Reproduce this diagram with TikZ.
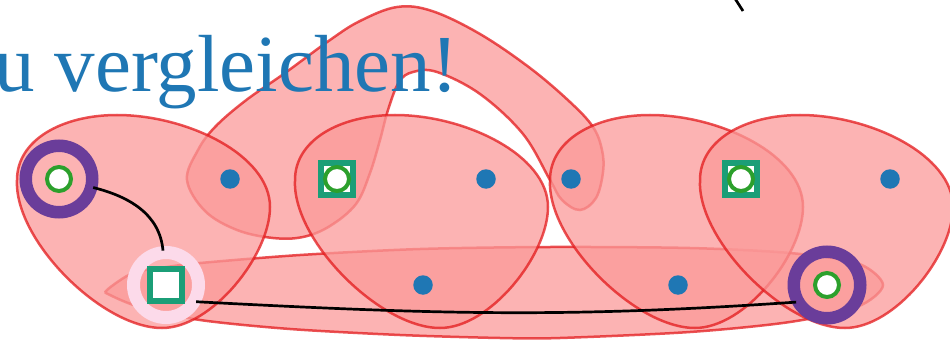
\documentclass[tikz,border=0pt]{standalone}
\usepackage{fontspec}
\setmainfont{Liberation Serif}
\definecolor{cblue}{HTML}{1F77B4}
\definecolor{cgreen}{HTML}{2CA02C}
\definecolor{cteal}{HTML}{1B9E77}
\definecolor{cpurple}{HTML}{6A3D9A}
\definecolor{cpink}{HTML}{FCDAEA}
\definecolor{cfill}{HTML}{FB9A99}
\definecolor{cred}{HTML}{E31A1C}
\tikzset{
  blob/.style={fill=cfill, fill opacity=0.75, draw=cred, draw opacity=0.75, line width=2.5pt},
  teardrop/.pic={\path[pic actions] (0,0) .. controls (0,-40) and (45,-65) .. (100,-65)
      .. controls (170,-65) and (253,-25) .. (253,27)
      .. controls (253,75) and (195,148) .. (145,148)
      .. controls (85,148) and (-3,60) .. (0,0) -- cycle;},
  purplering/.style={circle, draw=cpurple, line width=12.5pt, minimum size=66.5pt, inner sep=0pt, outer sep=2pt},
  pinkring/.style={circle, draw=cpink, line width=13pt, minimum size=65pt, inner sep=0pt, outer sep=2pt},
  gcirc/.style={circle, draw=cgreen, line width=4pt, fill=white, minimum size=24pt, inner sep=0pt},
  gsq/.style={rectangle, draw=cteal, line width=6.5pt, fill=white, minimum size=32pt, inner sep=0pt},
  bdot/.style={circle, fill=cblue, minimum size=19.5pt, inner sep=0pt},
  edge/.style={draw=black, line width=2.7pt}
}
\begin{document}
\begin{tikzpicture}[x=1pt,y=-1pt]
\useasboundingbox (0,0) rectangle (950,342);
% snake blob
\draw[blob] plot[smooth cycle, tension=0.6] coordinates {(187,180) (198,150) (215,127) (245,101) (285,73) (330,40) (360,21) (397,7) (432,11) (480,34) (530,68) (570,102) (593,127) (602,150) (603,172) (596,198) (580,210) (562,200) (550,180) (523,134) (480,94) (437,72) (413,72) (399,82) (388,110) (380,140) (370,173) (356,204) (330,226) (303,237) (273,238) (237,230) (205,211)};
% long flat blob
\draw[blob] plot[smooth cycle] coordinates {(107,290) (133,273) (167,267) (200,263) (300,255) (420,249) (550,247) (690,248) (790,253) (857,263) (883,285) (857,307) (790,322) (690,332) (560,338) (500,338) (400,335) (290,329) (200,320) (140,307) (110,295)};
% teardrop blobs
\pic[blob] at (17,180) {teardrop};
\pic[blob] at (295,180) {teardrop};
\pic[blob] at (550,180) {teardrop};
\pic[blob] at (700,180) {teardrop};
% title
\node[text=cblue, anchor=base west, inner sep=0pt, font=\fontsize{81}{84}\selectfont] (title) at (-6,92) {u vergleichen!};
% vertices
\node[purplering] (p1) at (59,179) {};
\node[gcirc] (p1c) at (59,179) {};
\node[pinkring] (p2) at (166,285) {};
\node[gsq] (p2s) at (166,285) {};
\node[purplering] (p3) at (827,285) {};
\node[gcirc] (p3c) at (827,285) {};
\node[gsq] (s1) at (337,179) {};
\node[gcirc] (s1c) at (337,179) {};
\node[gsq] (s2) at (741,179) {};
\node[gcirc] (s2c) at (741,179) {};
\node[bdot] (b1) at (230,179) {};
\node[bdot] (b2) at (486,179) {};
\node[bdot] (b3) at (571,179) {};
\node[bdot] (b4) at (890,179) {};
\node[bdot] (b5) at (423,285) {};
\node[bdot] (b6) at (678,285) {};
% connectors
\draw[edge] (p1.-14) to[out=-14, in=95] (p2.95);
\draw[edge] (p2.-29) to[out=-3, in=184] (p3.209);
\coordinate (topa) at (734,-3);
\coordinate (topb) at (743,11);
\draw[edge] (topa) -- (topb);
\end{tikzpicture}
\end{document}
